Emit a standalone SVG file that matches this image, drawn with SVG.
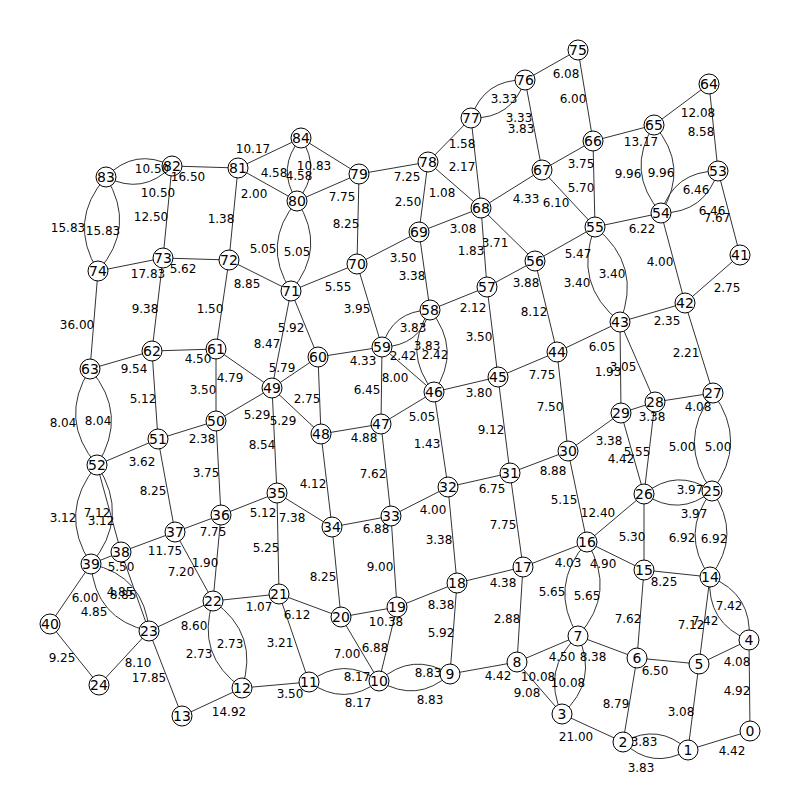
<svg xmlns="http://www.w3.org/2000/svg" width="800" height="800" viewBox="0 0 800 800">
<style>
.e line,.e path{stroke:#333;stroke-width:1;fill:none}
.n circle{fill:#fff;stroke:#000;stroke-width:1}
.n text{font-family:"DejaVu Sans",sans-serif;font-size:14px;text-anchor:middle;fill:#000}
.l text{font-family:"DejaVu Sans",sans-serif;font-size:12px;text-anchor:middle;fill:#000}
</style>
<rect width="800" height="800" fill="#fff"/>
<g id="connectors" class="e">
<line x1="578" y1="50" x2="525" y2="80"/><line x1="578" y1="50" x2="593" y2="141"/><line x1="525" y1="80" x2="542" y2="170"/>
<line x1="471" y1="118" x2="428" y2="162"/><line x1="471" y1="118" x2="481" y2="208"/><line x1="428" y1="162" x2="359" y2="174"/>
<line x1="428" y1="162" x2="419" y2="232"/><line x1="428" y1="162" x2="481" y2="208"/><line x1="593" y1="141" x2="542" y2="170"/>
<line x1="593" y1="141" x2="595" y2="227"/><line x1="593" y1="141" x2="654" y2="125"/><line x1="542" y1="170" x2="481" y2="208"/>
<line x1="542" y1="170" x2="595" y2="227"/><line x1="481" y1="208" x2="419" y2="232"/><line x1="481" y1="208" x2="487" y2="287"/>
<line x1="481" y1="208" x2="535" y2="261"/><line x1="419" y1="232" x2="357" y2="264"/><line x1="419" y1="232" x2="430" y2="310"/>
<line x1="535" y1="261" x2="595" y2="227"/><line x1="535" y1="261" x2="487" y2="287"/><line x1="535" y1="261" x2="557" y2="352"/>
<line x1="595" y1="227" x2="661" y2="213"/><line x1="654" y1="125" x2="709" y2="84"/><line x1="709" y1="84" x2="718" y2="171"/>
<line x1="718" y1="171" x2="740" y2="255"/><line x1="661" y1="213" x2="685" y2="303"/><line x1="740" y1="255" x2="685" y2="303"/>
<line x1="685" y1="303" x2="620" y2="322"/><line x1="685" y1="303" x2="713" y2="393"/>
<line x1="172" y1="166" x2="238" y2="168"/><line x1="172" y1="166" x2="163" y2="258"/><line x1="98" y1="271" x2="163" y2="258"/>
<line x1="98" y1="271" x2="90" y2="369"/><line x1="163" y1="258" x2="229" y2="260"/><line x1="163" y1="258" x2="152" y2="351"/>
<line x1="229" y1="260" x2="238" y2="168"/><line x1="229" y1="260" x2="291" y2="291"/><line x1="229" y1="260" x2="216" y2="349"/>
<line x1="238" y1="168" x2="301" y2="138"/><line x1="238" y1="168" x2="297" y2="201"/><line x1="301" y1="138" x2="359" y2="174"/>
<line x1="297" y1="201" x2="359" y2="174"/><line x1="359" y1="174" x2="357" y2="264"/><line x1="357" y1="264" x2="291" y2="291"/>
<line x1="357" y1="264" x2="382" y2="347"/><line x1="291" y1="291" x2="272" y2="388"/><line x1="291" y1="291" x2="318" y2="357"/>
<line x1="430" y1="310" x2="487" y2="287"/><line x1="382" y1="347" x2="434" y2="392"/><line x1="382" y1="347" x2="318" y2="357"/>
<line x1="382" y1="347" x2="381" y2="424"/><line x1="487" y1="287" x2="498" y2="377"/>
<line x1="90" y1="369" x2="152" y2="351"/><line x1="152" y1="351" x2="216" y2="349"/><line x1="152" y1="351" x2="158" y2="439"/>
<line x1="216" y1="349" x2="216" y2="421"/><line x1="216" y1="349" x2="272" y2="388"/><line x1="216" y1="421" x2="158" y2="439"/>
<line x1="216" y1="421" x2="272" y2="388"/><line x1="272" y1="388" x2="318" y2="357"/><line x1="272" y1="388" x2="321" y2="434"/>
<line x1="318" y1="357" x2="321" y2="434"/><line x1="216" y1="421" x2="221" y2="515"/><line x1="158" y1="439" x2="97" y2="465"/>
<line x1="158" y1="439" x2="175" y2="532"/><line x1="272" y1="388" x2="277" y2="493"/><line x1="221" y1="515" x2="175" y2="532"/>
<line x1="221" y1="515" x2="277" y2="493"/><line x1="221" y1="515" x2="213" y2="601"/><line x1="175" y1="532" x2="121" y2="552"/>
<line x1="175" y1="532" x2="213" y2="601"/><line x1="121" y1="552" x2="91" y2="564"/><line x1="121" y1="552" x2="149" y2="631"/>
<line x1="97" y1="465" x2="121" y2="552"/><line x1="91" y1="564" x2="50" y2="624"/><line x1="277" y1="493" x2="332" y2="527"/>
<line x1="277" y1="493" x2="279" y2="594"/><line x1="321" y1="434" x2="332" y2="527"/><line x1="381" y1="424" x2="321" y2="434"/>
<line x1="381" y1="424" x2="434" y2="392"/><line x1="381" y1="424" x2="391" y2="516"/><line x1="434" y1="392" x2="498" y2="377"/>
<line x1="434" y1="392" x2="448" y2="487"/><line x1="332" y1="527" x2="391" y2="516"/><line x1="391" y1="516" x2="448" y2="487"/>
<line x1="391" y1="516" x2="397" y2="607"/><line x1="332" y1="527" x2="341" y2="617"/><line x1="448" y1="487" x2="510" y2="473"/>
<line x1="448" y1="487" x2="457" y2="583"/><line x1="498" y1="377" x2="557" y2="352"/><line x1="498" y1="377" x2="510" y2="473"/>
<line x1="557" y1="352" x2="620" y2="322"/><line x1="557" y1="352" x2="568" y2="451"/><line x1="620" y1="322" x2="621" y2="413"/>
<line x1="620" y1="322" x2="655" y2="402"/><line x1="568" y1="451" x2="621" y2="413"/><line x1="568" y1="451" x2="510" y2="473"/>
<line x1="568" y1="451" x2="587" y2="542"/><line x1="621" y1="413" x2="655" y2="402"/><line x1="621" y1="413" x2="644" y2="494"/>
<line x1="655" y1="402" x2="644" y2="494"/><line x1="655" y1="402" x2="713" y2="393"/><line x1="644" y1="494" x2="587" y2="542"/>
<line x1="644" y1="494" x2="644" y2="570"/><line x1="510" y1="473" x2="523" y2="567"/><line x1="587" y1="542" x2="523" y2="567"/>
<line x1="587" y1="542" x2="644" y2="570"/><line x1="644" y1="570" x2="710" y2="577"/><line x1="644" y1="570" x2="637" y2="658"/>
<line x1="710" y1="577" x2="699" y2="664"/><line x1="523" y1="567" x2="457" y2="583"/><line x1="523" y1="567" x2="517" y2="662"/>
<line x1="457" y1="583" x2="397" y2="607"/><line x1="457" y1="583" x2="450" y2="674"/><line x1="397" y1="607" x2="341" y2="617"/>
<line x1="397" y1="607" x2="379" y2="681"/><line x1="341" y1="617" x2="279" y2="594"/><line x1="341" y1="617" x2="379" y2="681"/>
<line x1="279" y1="594" x2="213" y2="601"/><line x1="279" y1="594" x2="309" y2="682"/><line x1="213" y1="601" x2="149" y2="631"/>
<line x1="149" y1="631" x2="99" y2="685"/><line x1="149" y1="631" x2="182" y2="716"/><line x1="50" y1="624" x2="99" y2="685"/>
<line x1="242" y1="688" x2="309" y2="682"/><line x1="242" y1="688" x2="182" y2="716"/><line x1="450" y1="674" x2="517" y2="662"/>
<line x1="517" y1="662" x2="578" y2="636"/><line x1="517" y1="662" x2="562" y2="714"/><line x1="578" y1="636" x2="637" y2="658"/>
<line x1="562" y1="714" x2="623" y2="742"/><line x1="637" y1="658" x2="699" y2="664"/><line x1="637" y1="658" x2="623" y2="742"/>
<line x1="699" y1="664" x2="749" y2="640"/><line x1="699" y1="664" x2="688" y2="750"/><line x1="749" y1="640" x2="750" y2="731"/>
<line x1="750" y1="731" x2="688" y2="750"/>
<path d="M106,177 Q143.1,195.9 172,166"/><path d="M106,177 Q134.9,147.1 172,166"/>
<path d="M106,177 Q67.2,221 98,271"/><path d="M106,177 Q136.8,227 98,271"/>
<path d="M301,138 Q275.7,168 297,201"/><path d="M301,138 Q322.3,171 297,201"/>
<path d="M297,201 Q260.7,243.8 291,291"/><path d="M297,201 Q327.3,248.2 291,291"/>
<path d="M525,80 Q483.9,79 471,118"/><path d="M525,80 Q512.1,119 471,118"/>
<path d="M654,125 Q624.9,171.6 661,213"/><path d="M654,125 Q690.1,166.4 661,213"/>
<path d="M718,171 Q674,170.9 661,213"/><path d="M718,171 Q705,213.1 661,213"/>
<path d="M595,227 Q572.4,283.8 620,322"/><path d="M595,227 Q642.7,265.3 620,322"/>
<path d="M430,310 Q392.3,310.7 382,347"/><path d="M430,310 Q419.7,346.3 382,347"/>
<path d="M430,310 Q401.7,352.5 434,392"/><path d="M430,310 Q462.3,349.5 434,392"/>
<path d="M90,369 Q58,419.6 97,465"/><path d="M90,369 Q129,414.4 97,465"/>
<path d="M97,465 Q57.4,512.3 91,564"/><path d="M97,465 Q130.6,516.7 91,564"/>
<path d="M91,564 Q95.2,619 149,631"/><path d="M91,564 Q144.8,576 149,631"/>
<path d="M213,601 Q195.3,655.2 242,688"/><path d="M213,601 Q259.7,633.8 242,688"/>
<path d="M309,682 Q344.4,707.4 379,681"/><path d="M309,682 Q343.6,655.6 379,681"/>
<path d="M379,681 Q417.1,703.8 450,674"/><path d="M379,681 Q411.9,651.2 450,674"/>
<path d="M587,542 Q547.7,585.7 578,636"/><path d="M587,542 Q617.3,592.3 578,636"/>
<path d="M578,636 Q541.1,669.1 562,714"/><path d="M578,636 Q598.9,680.9 562,714"/>
<path d="M623,742 Q652.2,770.6 688,750"/><path d="M623,742 Q658.8,722.5 688,750"/>
<path d="M710,577 Q706.2,622.9 749,640"/><path d="M710,577 Q752.8,594.1 749,640"/>
<path d="M712,491 Q679.2,533.3 710,577"/><path d="M712,491 Q742.8,534.7 710,577"/>
<path d="M713,393 Q676.2,441.6 712,491"/><path d="M713,393 Q748.8,442.4 712,491"/>
<path d="M644,494 Q679.1,517.7 712,491"/><path d="M644,494 Q676.9,467.3 712,491"/>
</g>
<g id="nodes" class="n">
<g id="n0"><circle cx="750" cy="731" r="10"/><text x="750" y="736">0</text></g>
<g id="n1"><circle cx="688" cy="750" r="10"/><text x="688" y="755">1</text></g>
<g id="n2"><circle cx="623" cy="742" r="10"/><text x="623" y="747">2</text></g>
<g id="n3"><circle cx="562" cy="714" r="10"/><text x="562" y="719">3</text></g>
<g id="n4"><circle cx="749" cy="640" r="10"/><text x="749" y="645">4</text></g>
<g id="n5"><circle cx="699" cy="664" r="10"/><text x="699" y="669">5</text></g>
<g id="n6"><circle cx="637" cy="658" r="10"/><text x="637" y="663">6</text></g>
<g id="n7"><circle cx="578" cy="636" r="10"/><text x="578" y="641">7</text></g>
<g id="n8"><circle cx="517" cy="662" r="10"/><text x="517" y="667">8</text></g>
<g id="n9"><circle cx="450" cy="674" r="10"/><text x="450" y="679">9</text></g>
<g id="n10"><circle cx="379" cy="681" r="10"/><text x="379" y="686">10</text></g>
<g id="n11"><circle cx="309" cy="682" r="10"/><text x="309" y="687">11</text></g>
<g id="n12"><circle cx="242" cy="688" r="10"/><text x="242" y="693">12</text></g>
<g id="n13"><circle cx="182" cy="716" r="10"/><text x="182" y="721">13</text></g>
<g id="n14"><circle cx="710" cy="577" r="10"/><text x="710" y="582">14</text></g>
<g id="n15"><circle cx="644" cy="570" r="10"/><text x="644" y="575">15</text></g>
<g id="n16"><circle cx="587" cy="542" r="10"/><text x="587" y="547">16</text></g>
<g id="n17"><circle cx="523" cy="567" r="10"/><text x="523" y="572">17</text></g>
<g id="n18"><circle cx="457" cy="583" r="10"/><text x="457" y="588">18</text></g>
<g id="n19"><circle cx="397" cy="607" r="10"/><text x="397" y="612">19</text></g>
<g id="n20"><circle cx="341" cy="617" r="10"/><text x="341" y="622">20</text></g>
<g id="n21"><circle cx="279" cy="594" r="10"/><text x="279" y="599">21</text></g>
<g id="n22"><circle cx="213" cy="601" r="10"/><text x="213" y="606">22</text></g>
<g id="n23"><circle cx="149" cy="631" r="10"/><text x="149" y="636">23</text></g>
<g id="n24"><circle cx="99" cy="685" r="10"/><text x="99" y="690">24</text></g>
<g id="n25"><circle cx="712" cy="491" r="10"/><text x="712" y="496">25</text></g>
<g id="n26"><circle cx="644" cy="494" r="10"/><text x="644" y="499">26</text></g>
<g id="n27"><circle cx="713" cy="393" r="10"/><text x="713" y="398">27</text></g>
<g id="n28"><circle cx="655" cy="402" r="10"/><text x="655" y="407">28</text></g>
<g id="n29"><circle cx="621" cy="413" r="10"/><text x="621" y="418">29</text></g>
<g id="n30"><circle cx="568" cy="451" r="10"/><text x="568" y="456">30</text></g>
<g id="n31"><circle cx="510" cy="473" r="10"/><text x="510" y="478">31</text></g>
<g id="n32"><circle cx="448" cy="487" r="10"/><text x="448" y="492">32</text></g>
<g id="n33"><circle cx="391" cy="516" r="10"/><text x="391" y="521">33</text></g>
<g id="n34"><circle cx="332" cy="527" r="10"/><text x="332" y="532">34</text></g>
<g id="n35"><circle cx="277" cy="493" r="10"/><text x="277" y="498">35</text></g>
<g id="n36"><circle cx="221" cy="515" r="10"/><text x="221" y="520">36</text></g>
<g id="n37"><circle cx="175" cy="532" r="10"/><text x="175" y="537">37</text></g>
<g id="n38"><circle cx="121" cy="552" r="10"/><text x="121" y="557">38</text></g>
<g id="n39"><circle cx="91" cy="564" r="10"/><text x="91" y="569">39</text></g>
<g id="n40"><circle cx="50" cy="624" r="10"/><text x="50" y="629">40</text></g>
<g id="n41"><circle cx="740" cy="255" r="10"/><text x="740" y="260">41</text></g>
<g id="n42"><circle cx="685" cy="303" r="10"/><text x="685" y="308">42</text></g>
<g id="n43"><circle cx="620" cy="322" r="10"/><text x="620" y="327">43</text></g>
<g id="n44"><circle cx="557" cy="352" r="10"/><text x="557" y="357">44</text></g>
<g id="n45"><circle cx="498" cy="377" r="10"/><text x="498" y="382">45</text></g>
<g id="n46"><circle cx="434" cy="392" r="10"/><text x="434" y="397">46</text></g>
<g id="n47"><circle cx="381" cy="424" r="10"/><text x="381" y="429">47</text></g>
<g id="n48"><circle cx="321" cy="434" r="10"/><text x="321" y="439">48</text></g>
<g id="n49"><circle cx="272" cy="388" r="10"/><text x="272" y="393">49</text></g>
<g id="n50"><circle cx="216" cy="421" r="10"/><text x="216" y="426">50</text></g>
<g id="n51"><circle cx="158" cy="439" r="10"/><text x="158" y="444">51</text></g>
<g id="n52"><circle cx="97" cy="465" r="10"/><text x="97" y="470">52</text></g>
<g id="n53"><circle cx="718" cy="171" r="10"/><text x="718" y="176">53</text></g>
<g id="n54"><circle cx="661" cy="213" r="10"/><text x="661" y="218">54</text></g>
<g id="n55"><circle cx="595" cy="227" r="10"/><text x="595" y="232">55</text></g>
<g id="n56"><circle cx="535" cy="261" r="10"/><text x="535" y="266">56</text></g>
<g id="n57"><circle cx="487" cy="287" r="10"/><text x="487" y="292">57</text></g>
<g id="n58"><circle cx="430" cy="310" r="10"/><text x="430" y="315">58</text></g>
<g id="n59"><circle cx="382" cy="347" r="10"/><text x="382" y="352">59</text></g>
<g id="n60"><circle cx="318" cy="357" r="10"/><text x="318" y="362">60</text></g>
<g id="n61"><circle cx="216" cy="349" r="10"/><text x="216" y="354">61</text></g>
<g id="n62"><circle cx="152" cy="351" r="10"/><text x="152" y="356">62</text></g>
<g id="n63"><circle cx="90" cy="369" r="10"/><text x="90" y="374">63</text></g>
<g id="n64"><circle cx="709" cy="84" r="10"/><text x="709" y="89">64</text></g>
<g id="n65"><circle cx="654" cy="125" r="10"/><text x="654" y="130">65</text></g>
<g id="n66"><circle cx="593" cy="141" r="10"/><text x="593" y="146">66</text></g>
<g id="n67"><circle cx="542" cy="170" r="10"/><text x="542" y="175">67</text></g>
<g id="n68"><circle cx="481" cy="208" r="10"/><text x="481" y="213">68</text></g>
<g id="n69"><circle cx="419" cy="232" r="10"/><text x="419" y="237">69</text></g>
<g id="n70"><circle cx="357" cy="264" r="10"/><text x="357" y="269">70</text></g>
<g id="n71"><circle cx="291" cy="291" r="10"/><text x="291" y="296">71</text></g>
<g id="n72"><circle cx="229" cy="260" r="10"/><text x="229" y="265">72</text></g>
<g id="n73"><circle cx="163" cy="258" r="10"/><text x="163" y="263">73</text></g>
<g id="n74"><circle cx="98" cy="271" r="10"/><text x="98" y="276">74</text></g>
<g id="n75"><circle cx="578" cy="50" r="10"/><text x="578" y="55">75</text></g>
<g id="n76"><circle cx="525" cy="80" r="10"/><text x="525" y="85">76</text></g>
<g id="n77"><circle cx="471" cy="118" r="10"/><text x="471" y="123">77</text></g>
<g id="n78"><circle cx="428" cy="162" r="10"/><text x="428" y="167">78</text></g>
<g id="n79"><circle cx="359" cy="174" r="10"/><text x="359" y="179">79</text></g>
<g id="n80"><circle cx="297" cy="201" r="10"/><text x="297" y="206">80</text></g>
<g id="n81"><circle cx="238" cy="168" r="10"/><text x="238" y="173">81</text></g>
<g id="n82"><circle cx="172" cy="166" r="10"/><text x="172" y="171">82</text></g>
<g id="n83"><circle cx="106" cy="177" r="10"/><text x="106" y="182">83</text></g>
<g id="n84"><circle cx="301" cy="138" r="10"/><text x="301" y="143">84</text></g>
</g>
<g id="edge-labels" class="l">
<text x="566" y="78">6.08</text><text x="573" y="103">6.00</text><text x="504" y="103">3.33</text><text x="519" y="122">3.33</text>
<text x="521" y="133">3.83</text><text x="462" y="148">1.58</text><text x="462" y="171">2.17</text><text x="407" y="181">7.25</text>
<text x="408" y="206">2.50</text><text x="442" y="197">1.08</text><text x="581" y="168">3.75</text><text x="581" y="192">5.70</text>
<text x="641" y="146">13.17</text><text x="526" y="203">4.33</text><text x="556" y="207">6.10</text><text x="463" y="233">3.08</text>
<text x="471" y="255">1.83</text><text x="495" y="247">3.71</text><text x="403" y="262">3.50</text><text x="412" y="280">3.38</text>
<text x="578" y="258">5.47</text><text x="526" y="287">3.88</text><text x="534" y="316">8.12</text><text x="577" y="287">3.40</text>
<text x="612" y="278">3.40</text><text x="642" y="233">6.22</text><text x="698" y="117">12.08</text><text x="701" y="136">8.58</text>
<text x="628" y="178">9.96</text><text x="661" y="177">9.96</text><text x="696" y="194">6.46</text><text x="712" y="215">6.46</text>
<text x="717" y="222">7.67</text><text x="660" y="266">4.00</text><text x="727" y="292">2.75</text><text x="667" y="325">2.35</text>
<text x="686" y="357">2.21</text>
<text x="152" y="173">10.50</text><text x="158" y="197">10.50</text><text x="188" y="181">16.50</text><text x="151" y="221">12.50</text>
<text x="68" y="232">15.83</text><text x="103" y="235">15.83</text><text x="148" y="278">17.83</text><text x="77" y="329">36.00</text>
<text x="183" y="273">5.62</text><text x="145" y="313">9.38</text><text x="221" y="223">1.38</text><text x="247" y="288">8.85</text>
<text x="210" y="313">1.50</text><text x="253" y="153">10.17</text><text x="254" y="198">2.00</text><text x="274" y="177">4.58</text>
<text x="299" y="180">4.58</text><text x="314" y="170">10.83</text><text x="342" y="201">7.75</text><text x="263" y="253">5.05</text>
<text x="297" y="256">5.05</text><text x="346" y="228">8.25</text><text x="338" y="291">5.55</text><text x="357" y="313">3.95</text>
<text x="267" y="348">8.47</text><text x="291" y="332">5.92</text>
<text x="473" y="312">2.12</text><text x="413" y="332">3.83</text><text x="427" y="350">3.83</text><text x="435" y="359">2.42</text>
<text x="403" y="360">2.42</text><text x="363" y="365">4.33</text><text x="395" y="382">8.00</text><text x="367" y="394">6.45</text>
<text x="479" y="341">3.50</text>
<text x="134" y="373">9.54</text><text x="63" y="427">8.04</text><text x="98" y="425">8.04</text><text x="198" y="363">4.50</text>
<text x="143" y="403">5.12</text><text x="203" y="394">3.50</text><text x="230" y="382">4.79</text><text x="202" y="443">2.38</text>
<text x="257" y="419">5.29</text><text x="283" y="425">5.29</text><text x="282" y="372">5.79</text><text x="307" y="403">2.75</text>
<text x="206" y="477">3.75</text><text x="142" y="466">3.62</text><text x="153" y="495">8.25</text><text x="262" y="449">8.54</text>
<text x="213" y="536">7.75</text><text x="263" y="517">5.12</text><text x="205" y="567">1.90</text><text x="165" y="555">11.75</text>
<text x="181" y="576">7.20</text><text x="292" y="522">7.38</text><text x="266" y="552">5.25</text><text x="313" y="488">4.12</text>
<text x="364" y="442">4.88</text><text x="422" y="421">5.05</text><text x="373" y="478">7.62</text><text x="479" y="397">3.80</text>
<text x="427" y="448">1.43</text><text x="376" y="533">6.88</text><text x="433" y="514">4.00</text><text x="380" y="571">9.00</text>
<text x="323" y="581">8.25</text><text x="492" y="493">6.75</text><text x="439" y="544">3.38</text>
<text x="542" y="379">7.75</text><text x="491" y="434">9.12</text><text x="602" y="351">6.05</text><text x="550" y="411">7.50</text>
<text x="608" y="376">1.93</text><text x="623" y="371">3.05</text><text x="609" y="445">3.38</text><text x="553" y="475">8.88</text>
<text x="564" y="504">5.15</text><text x="652" y="421">3.38</text><text x="621" y="463">4.42</text><text x="637" y="456">5.55</text>
<text x="698" y="411">4.08</text><text x="682" y="451">5.00</text><text x="718" y="451">5.00</text><text x="690" y="494">3.97</text>
<text x="694" y="518">3.97</text><text x="598" y="517">12.40</text><text x="632" y="541">5.30</text><text x="682" y="542">6.92</text>
<text x="714" y="543">6.92</text><text x="503" y="529">7.75</text><text x="568" y="567">4.03</text><text x="603" y="568">4.90</text>
<text x="552" y="596">5.65</text><text x="587" y="600">5.65</text><text x="664" y="586">8.25</text><text x="628" y="623">7.62</text>
<text x="691" y="629">7.12</text><text x="729" y="610">7.42</text><text x="705" y="625">7.42</text>
<text x="503" y="587">4.38</text><text x="507" y="623">2.88</text><text x="441" y="609">8.38</text><text x="441" y="637">5.92</text>
<text x="386" y="626">10.38</text><text x="375" y="652">6.88</text><text x="297" y="619">6.12</text><text x="347" y="658">7.00</text>
<text x="259" y="611">1.07</text><text x="280" y="647">3.21</text><text x="194" y="630">8.60</text><text x="230" y="648">2.73</text>
<text x="199" y="658">2.73</text><text x="138" y="667">8.10</text><text x="149" y="682">17.85</text><text x="62" y="662">9.25</text>
<text x="290" y="698">3.50</text><text x="229" y="716">14.92</text><text x="357" y="681">8.17</text><text x="358" y="707">8.17</text>
<text x="428" y="677">8.83</text><text x="430" y="704">8.83</text><text x="498" y="680">4.42</text><text x="562" y="661">4.50</text>
<text x="593" y="661">8.38</text><text x="538" y="681">10.08</text><text x="568" y="687">10.08</text><text x="527" y="697">9.08</text>
<text x="576" y="741">21.00</text><text x="655" y="675">6.50</text><text x="616" y="708">8.79</text><text x="737" y="666">4.08</text>
<text x="681" y="716">3.08</text><text x="737" y="695">4.92</text><text x="732" y="755">4.42</text><text x="644" y="746">3.83</text>
<text x="641" y="772">3.83</text>
<text x="63" y="522">3.12</text><text x="97" y="517">7.12</text><text x="101" y="525">3.12</text><text x="121" y="571">5.50</text>
<text x="120" y="596">4.85</text><text x="123" y="599">8.85</text><text x="85" y="602">6.00</text><text x="94" y="616">4.85</text>
</g>
</svg>
